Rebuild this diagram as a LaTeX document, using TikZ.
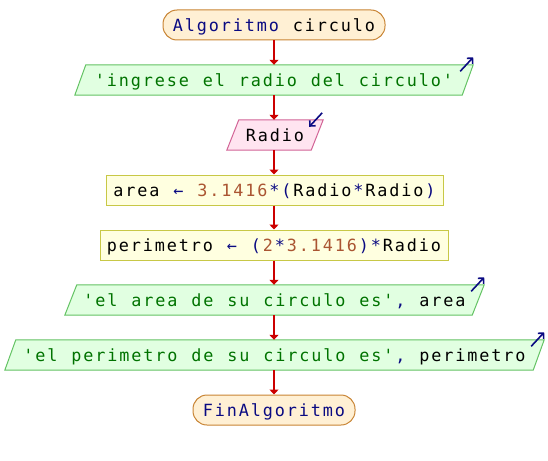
\documentclass[tikz,border=0pt]{standalone}
\usepackage{fontspec}
\setmonofont{DejaVu Sans Mono}
\usetikzlibrary{arrows.meta,calc,backgrounds}
\definecolor{kw}{RGB}{10,10,130}
\definecolor{str}{RGB}{0,115,0}
\definecolor{num}{RGB}{170,85,50}
\definecolor{termfill}{RGB}{255,240,212}
\definecolor{termdraw}{RGB}{200,132,52}
\definecolor{outfill}{RGB}{225,255,225}
\definecolor{outdraw}{RGB}{100,195,100}
\definecolor{infill}{RGB}{255,228,240}
\definecolor{indraw}{RGB}{210,100,150}
\definecolor{procfill}{RGB}{255,255,224}
\definecolor{procdraw}{RGB}{200,200,70}
\definecolor{flowred}{RGB}{204,0,0}
\ExplSyntaxOn
\NewDocumentCommand\mc{m}{\str_map_inline:nn {#1} {\makebox[12pt][c]{##1}}}
\ExplSyntaxOff
\newcommand\pfont{\ttfamily\fontsize{16.8}{19}\selectfont}
\newcommand\drawpara[4]{\draw[draw=#4, fill=#3, line width=1pt] ($(#1.north west)+(#2,0)$) -- ($(#1.north east)+(#2,0)$) -- ($(#1.south east)+(-#2,0)$) -- ($(#1.south west)+(-#2,0)$) -- cycle;}
\begin{document}
\begin{tikzpicture}[x=1pt,y=-1pt,
  base/.style={font=\pfont, text height=12.2pt, text depth=0pt, inner sep=0pt, minimum height=30pt, anchor=center},
  terminal/.style={base, draw=termdraw, fill=termfill, rounded corners=14pt, line width=1pt},
  proc/.style={base, draw=procdraw, fill=procfill, line width=1pt},
  para/.style={base},
  flow/.style={draw=flowred, line width=1.6pt, -{Triangle[length=5pt,width=9pt]}},
  io/.style={draw=kw, line width=1.6pt, -{Straight Barb[length=4pt,width=8pt]}}
]
\useasboundingbox (0,0) rectangle (548,460);

\node[terminal, minimum width=222pt] (start) at (274,25) {\textcolor{kw}{\mc{Algoritmo}}\mc{ circulo}};
\node[para, minimum width=387pt] (o1) at (274,80) {\textcolor{str}{\mc{'ingrese el radio del circulo'}}};
\node[para, minimum width=84pt] (in1) at (275,135) {\mc{Radio}};
\node[proc, minimum width=337pt] (p1) at (274.5,190) {\mc{area }\textcolor{kw}{\mc{←}}\mc{ }\textcolor{num}{\mc{3.1416}}\textcolor{kw}{\mc{*(}}\mc{Radio}\textcolor{kw}{\mc{*}}\mc{Radio}\textcolor{kw}{\mc{)}}};
\node[proc, minimum width=348pt] (p2) at (274,245) {\mc{perimetro }\textcolor{kw}{\mc{← (}}\textcolor{num}{\mc{2}}\textcolor{kw}{\mc{*}}\textcolor{num}{\mc{3.1416}}\textcolor{kw}{\mc{)*}}\mc{Radio}};
\node[para, minimum width=407pt] (o2) at (274.5,300) {\textcolor{str}{\mc{'el area de su circulo es'}}\textcolor{kw}{\mc{,}}\mc{ area}};
\node[para, minimum width=528pt] (o3) at (274.5,355) {\textcolor{str}{\mc{'el perimetro de su circulo es'}}\textcolor{kw}{\mc{,}}\mc{ perimetro}};
\node[terminal, minimum width=162pt] (end) at (274,410) {\textcolor{kw}{\mc{FinAlgoritmo}}};

\begin{scope}[on background layer]
\drawpara{o1}{5.5}{outfill}{outdraw}
\drawpara{in1}{6}{infill}{indraw}
\drawpara{o2}{6}{outfill}{outdraw}
\drawpara{o3}{5.5}{outfill}{outdraw}
\end{scope}

\draw[flow] (start.south) -- (start.south |- o1.north);
\draw[flow] (o1.south) -- (o1.south |- in1.north);
\draw[flow] (in1.south -| o1.south) -- (o1.south |- p1.north);
\draw[flow] (p1.south -| o1.south) -- (o1.south |- p2.north);
\draw[flow] (p2.south -| o1.south) -- (o1.south |- o2.north);
\draw[flow] (o2.south -| o1.south) -- (o1.south |- o3.north);
\draw[flow] (o3.south -| o1.south) -- (o1.south |- end.north);

\coordinate (o1t) at ($(o1.north east)+(5.5,0)+(-13,6.5)$);
\coordinate (o1h) at ($(o1.north east)+(5.5,0)+(0,-7.5)$);
\coordinate (o2t) at ($(o2.north east)+(6,0)+(-13,6.5)$);
\coordinate (o2h) at ($(o2.north east)+(6,0)+(0,-7.5)$);
\coordinate (o3t) at ($(o3.north east)+(5.5,0)+(-13,6.5)$);
\coordinate (o3h) at ($(o3.north east)+(5.5,0)+(0,-7.5)$);
\coordinate (in1t) at ($(in1.north east)+(6,0)+(-1,-7)$);
\coordinate (in1h) at ($(in1.north east)+(6,0)+(-14,7)$);
\draw[io] (o1t) -- (o1h);
\draw[io] (o2t) -- (o2h);
\draw[io] (o3t) -- (o3h);
\draw[io] (in1t) -- (in1h);
\end{tikzpicture}
\end{document}
